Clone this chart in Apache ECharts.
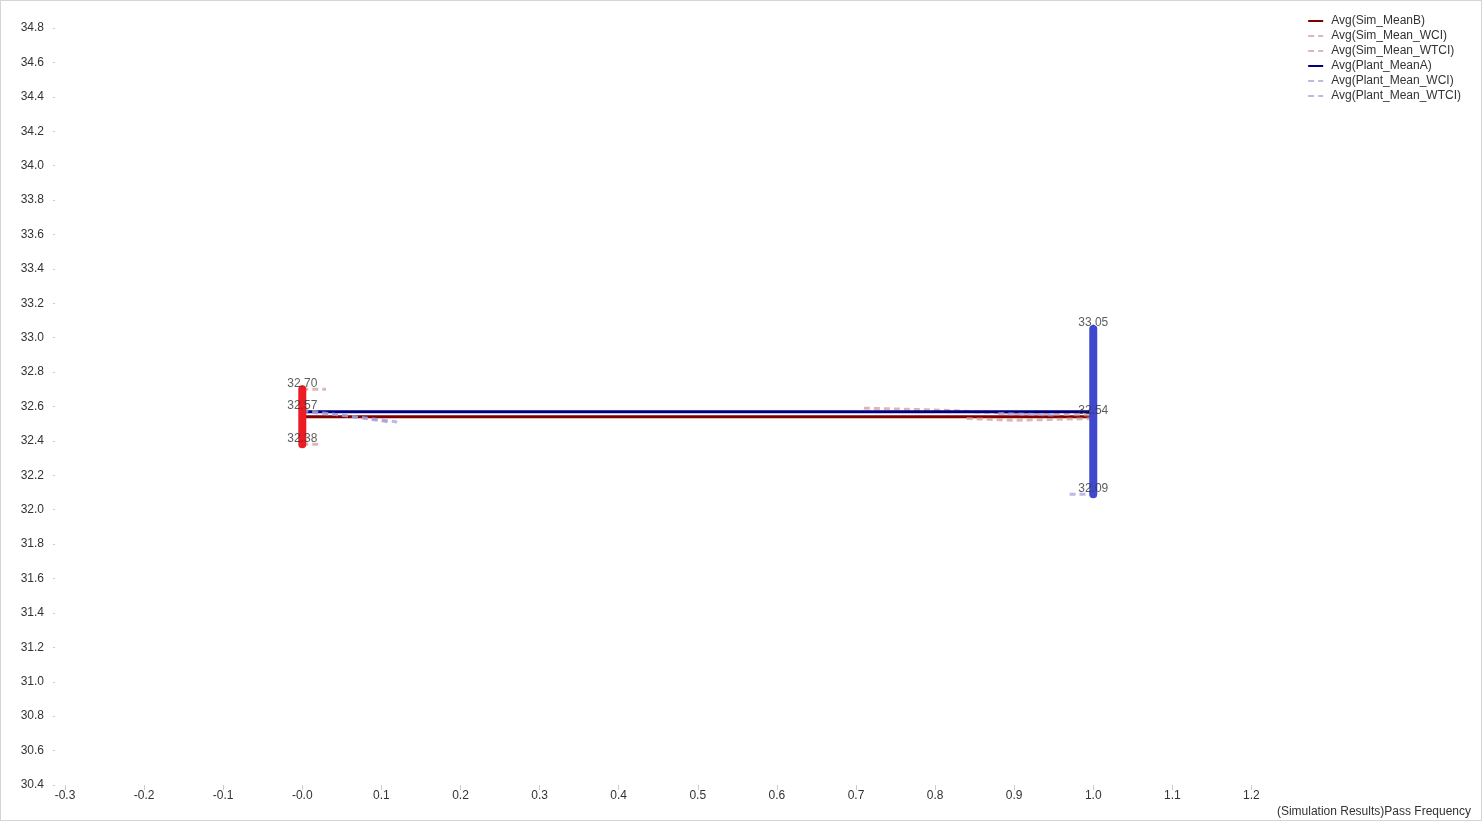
<!DOCTYPE html>
<html>
<head>
<meta charset="utf-8">
<title>Pass Frequency</title>
<script src="https://cdn.jsdelivr.net/npm/echarts@6/dist/echarts.min.js"></script>
<style>
	html, body {margin: 0; padding: 0; background: #fff;}
	#chart {width: 1482px; height: 821px; box-sizing: border-box; border: 1px solid #d4d4d4;}
</style>
</head>
<body>
<div id="chart"></div>
<script>
// 数据
var legendNames = ['Avg(Sim_MeanB)', 'Avg(Sim_Mean_WCI)', 'Avg(Sim_Mean_WTCI)', 'Avg(Plant_MeanA)', 'Avg(Plant_Mean_WCI)', 'Avg(Plant_Mean_WTCI)'];
var simMeanB = [[0, 32.54], [1, 32.54]];
var plantMeanA = [[0, 32.57], [1, 32.57]];
// dashed interval lines, only partly visible in the picture ('-' = gap)
var simMeanWci = [[0, 32.70], [0.03, 32.70], [0.3, '-'], [0.71, 32.59], [0.8, 32.58], [0.9, 32.56], [1, 32.55]];
var simMeanWtci = [[0, 32.38], [0.02, 32.38], [0.5, '-'], [0.84, 32.53], [0.9, 32.52], [1, 32.53]];
var plantMeanWci = [[0, 32.57], [0.05, 32.55], [0.12, 32.51], [0.5, '-'], [0.88, 32.56], [0.95, 32.55]];
var plantMeanWtci = [[0, 32.58], [0.08, 32.53], [0.11, 32.51], [0.5, '-'], [0.97, 32.09], [1, 32.09]];
var simRange = [[0, 32.38], [0, 32.70]];
var plantRange = [[1, 32.09], [1, 33.05]];
var simLabels = [[0, 32.70], [0, 32.57], [0, 32.38]];
var plantLabels = [[1, 33.05], [1, 32.54], [1, 32.09]];

var myChart = echarts.init(document.getElementById("chart"));
var font = 'Liberation Sans, Arial, sans-serif';

function lineSeries(name, data, color, width, dashed) {
	return {
		name: name,
		type: 'line',
		data: data,
		symbol: 'none',
		silent: true,
		connectNulls: false,
		animation: false,
		z: 2,
		itemStyle: {color: color},
		lineStyle: {color: color, width: width, type: dashed ? [6, 4] : 'solid', opacity: dashed ? 0.7 : 1}
	};
}
function rangeSeries(data, color) {
	return {
		type: 'line',
		data: data,
		symbol: 'none',
		silent: true,
		animation: false,
		z: 4,
		lineStyle: {color: color, width: 8, cap: 'round'}
	};
}
function labelSeries(data) {
	return {
		type: 'scatter',
		data: data,
		symbolSize: 0,
		silent: true,
		animation: false,
		z: 6,
		label: {
			show: true,
			position: 'top',
			distance: 0,
			fontFamily: font,
			fontSize: 12,
			color: '#333',
			formatter: function (p) {
				return p.value[1].toFixed(2);
			}
		}
	};
}

var option = {
	animation: false,
	textStyle: {fontFamily: font},
	grid: {left: 64, right: 190, top: 27, bottom: 35, containLabel: false},
	legend: {
		data: legendNames,
		orient: 'vertical',
		right: 15,
		top: 9,
		itemWidth: 15,
		itemHeight: 4,
		itemGap: 3,
		itemStyle: {opacity: 0},
		textStyle: {fontFamily: font, fontSize: 12, color: '#333', padding: [0, 0, 0, 3]}
	},
	xAxis: {
		type: 'value',
		min: -0.3,
		max: 1.25,
		interval: 0.1,
		splitLine: {show: false},
		axisLine: {show: false, onZero: false},
		axisTick: {show: true, length: 5, lineStyle: {color: '#ccc'}},
		axisLabel: {
			margin: 5,
			fontSize: 12,
			color: '#333',
			showMaxLabel: false,
			formatter: function (v) {
				if (Math.abs(v) < 1e-9) return '-0.0';
				return v.toFixed(1);
			}
		}
	},
	yAxis: {
		type: 'value',
		min: 30.4,
		max: 34.8,
		interval: 0.2,
		offset: 10,
		splitLine: {show: false},
		axisLine: {show: false, onZero: false},
		axisTick: {show: true, length: 2, lineStyle: {color: '#ccc'}},
		axisLabel: {
			margin: 11,
			fontSize: 12,
			color: '#333',
			formatter: function (v) {
				return v.toFixed(1);
			}
		}
	},
	graphic: [{
		type: 'text',
		right: 10,
		bottom: 2,
		style: {text: '(Simulation Results)Pass Frequency', font: '12px ' + font, fill: '#333'}
	}],
	series: [
		lineSeries(legendNames[0], simMeanB, '#800000', 3, false),
		lineSeries(legendNames[1], simMeanWci, '#cf9898', 3, true),
		lineSeries(legendNames[2], simMeanWtci, '#cf9898', 3, true),
		lineSeries(legendNames[3], plantMeanA, '#000080', 3, false),
		lineSeries(legendNames[4], plantMeanWci, '#9d9dd6', 3, true),
		lineSeries(legendNames[5], plantMeanWtci, '#9d9dd6', 3, true),
		rangeSeries(simRange, '#ed1c24'),
		rangeSeries(plantRange, '#3f48cf'),
		labelSeries(simLabels),
		labelSeries(plantLabels)
	]
};
myChart.setOption(option, true);
</script>
</body>
</html>
